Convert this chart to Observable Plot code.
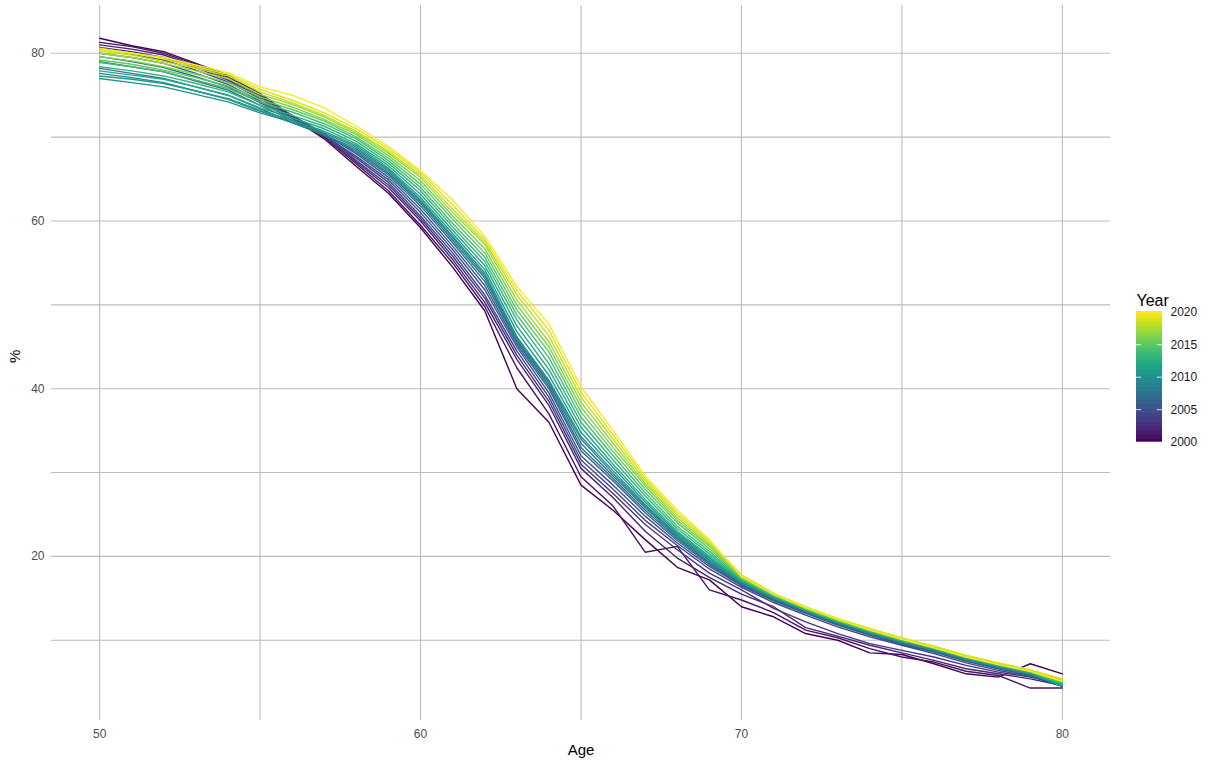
<!DOCTYPE html>
<html><head><meta charset="utf-8">
<script src="https://cdn.jsdelivr.net/npm/d3@7"></script>
<script src="https://cdn.jsdelivr.net/npm/@observablehq/plot@0.6"></script>
<style>
body{margin:0;background:#fff;font-family:"Liberation Sans",Arial,sans-serif;}
#wrap{position:relative;width:1208px;height:765px;overflow:hidden;}
#chart{position:absolute;left:0;top:0;}
#legend{position:absolute;left:1125px;top:280px;}
</style></head><body><div id="wrap"><div id="chart"></div><div id="legend"></div></div>
<script>
const years = [2000,2001,2002,2003,2004,2005,2006,2007,2008,2009,2010,2011,2012,2013,2014,2015,2016,2017,2018,2019,2020];
const ages = [50,51,52,53,54,55,56,57,58,59,60,61,62,63,64,65,66,67,68,69,70,71,72,73,74,75,76,77,78,79,80];
const xTicks = [50,60,70,80];
const yTicks = [20,40,60,80];
const xGrid = [50,55,60,65,70,75,80];
const yGrid = [10,20,30,40,50,60,70,80];
const legendTicks = [2000,2005,2010,2015,2020];

// % by age; each array lists years 2000..2020
const pct50 = [81.8,81.3,81.0,80.7,80.4,80.0,79.6,79.0,78.2,77.6,77.0,77.3,77.9,78.4,78.9,79.2,79.6,80.0,80.3,80.6,80.4];
const pct51 = [80.9,80.8,80.5,80.2,79.9,79.5,79.0,78.4,77.6,77.1,76.5,76.9,77.4,77.9,78.4,78.7,79.1,79.5,79.8,80.0,80.0];
const pct52 = [80.2,80.0,79.8,79.5,79.2,78.8,78.3,77.8,77.0,76.5,76.0,76.4,76.9,77.3,77.8,78.0,78.4,78.8,79.0,79.3,79.5];
const pct53 = [78.8,78.7,78.5,78.3,78.0,77.6,77.2,76.7,76.0,75.5,75.1,75.5,76.0,76.4,76.8,77.1,77.5,77.9,78.2,78.4,78.6];
const pct54 = [77.4,77.2,77.0,76.8,76.6,76.3,76.0,75.6,75.0,74.5,74.2,74.6,75.0,75.4,75.8,76.1,76.5,77.0,77.3,77.5,77.7];
const pct55 = [75.0,75.2,75.0,74.8,74.6,74.3,74.1,73.8,73.4,73.1,72.9,73.2,73.5,73.8,74.2,74.5,74.8,75.1,75.4,75.7,76.0];
const pct56 = [72.3,72.5,72.4,72.6,72.4,72.3,72.2,72.0,71.8,71.7,71.8,72.0,72.3,72.6,73.0,73.3,73.6,73.9,74.1,74.4,75.0];
const pct57 = [69.8,70.0,70.2,70.4,70.3,70.2,70.4,70.3,70.2,70.3,70.5,70.7,71.0,71.3,71.6,71.9,72.1,72.4,72.6,72.9,73.5];
const pct58 = [66.5,66.8,67.0,67.2,67.5,67.7,68.0,68.2,68.4,68.6,68.8,69.0,69.2,69.5,69.8,70.0,70.3,70.5,70.7,71.0,71.3];
const pct59 = [63.3,63.6,64.0,64.3,64.6,64.9,65.2,65.5,65.7,65.9,66.1,66.3,66.6,66.9,67.2,67.5,67.8,68.1,68.3,68.6,68.9];
const pct60 = [59.2,59.5,60.0,60.3,60.6,61.0,61.4,61.8,62.1,62.3,62.5,62.8,63.2,63.6,64.0,64.4,64.8,65.2,65.5,65.8,66.0];
const pct61 = [54.5,55.0,55.4,55.8,56.2,56.6,57.0,57.4,57.7,58.0,58.2,58.5,58.9,59.3,59.7,60.2,60.6,61.0,61.4,61.9,62.5];
const pct62 = [49.3,49.8,50.3,50.8,51.2,51.8,52.3,52.8,53.2,53.5,53.8,54.2,54.7,55.2,55.7,56.2,56.7,57.2,57.5,57.8,58.2];
const pct63 = [40.0,42.5,43.5,44.0,44.5,45.0,45.3,45.6,45.8,46.0,46.2,46.8,47.5,48.2,48.8,49.4,50.0,50.6,51.2,51.7,52.2];
const pct64 = [36.0,37.0,38.0,38.5,39.0,39.5,40.0,40.3,40.6,40.8,41.0,41.6,42.3,43.0,43.7,44.4,45.0,45.6,46.3,47.0,47.7];
const pct65 = [28.5,29.5,30.5,31.0,31.5,32.0,32.6,33.0,33.5,34.0,34.3,34.8,35.4,36.0,36.6,37.2,37.8,38.4,39.0,39.6,40.2];
const pct66 = [25.5,26.0,27.0,27.5,28.0,28.5,29.0,29.3,29.6,29.9,30.2,30.6,31.0,31.5,32.0,32.5,33.0,33.5,34.0,34.5,35.0];
const pct67 = [22.0,20.5,23.0,23.8,24.3,24.8,25.2,25.5,25.8,26.0,26.2,26.5,26.8,27.2,27.6,28.0,28.4,28.7,29.0,29.3,29.6];
const pct68 = [18.7,21.2,19.8,20.8,21.3,21.6,21.9,22.1,22.3,22.5,22.6,22.8,23.0,23.3,23.6,24.0,24.3,24.6,24.9,25.2,25.5];
const pct69 = [17.2,16.0,17.5,18.0,18.5,18.8,19.0,19.2,19.3,19.5,19.6,19.8,20.0,20.3,20.6,20.9,21.2,21.4,21.6,21.8,22.0];
const pct70 = [14.0,14.8,15.5,16.0,16.3,16.5,16.6,16.7,16.8,16.9,17.0,17.0,17.1,17.2,17.3,17.4,17.5,17.6,17.7,17.8,17.6];
const pct71 = [12.8,13.3,14.0,13.8,14.5,14.7,14.8,14.9,15.0,15.0,15.1,15.1,15.2,15.3,15.3,15.4,15.4,15.5,15.6,15.6,15.5];
const pct72 = [10.8,11.2,11.5,12.2,13.0,13.2,13.3,13.4,13.4,13.5,13.5,13.6,13.6,13.7,13.7,13.8,13.8,13.9,13.9,14.0,13.9];
const pct73 = [10.0,10.3,10.5,10.8,11.6,11.8,11.9,12.0,12.0,12.1,12.1,12.2,12.2,12.3,12.3,12.4,12.4,12.5,12.5,12.6,12.5];
const pct74 = [8.5,9.0,9.4,9.6,10.4,10.6,10.7,10.8,10.8,10.9,10.9,11.0,11.0,11.1,11.1,11.2,11.2,11.3,11.3,11.4,11.2];
const pct75 = [8.3,8.0,8.5,8.8,9.4,9.5,9.6,9.7,9.7,9.8,9.8,9.9,9.9,10.0,10.0,10.1,10.1,10.2,10.2,10.3,10.1];
const pct76 = [7.2,7.4,7.6,8.0,8.4,8.6,8.7,8.7,8.8,8.8,8.9,8.9,9.0,9.0,9.1,9.1,9.2,9.2,9.3,9.3,9.1];
const pct77 = [6.0,6.3,6.6,7.0,7.3,7.5,7.6,7.6,7.7,7.7,7.8,7.8,7.9,7.9,8.0,8.0,8.1,8.1,8.2,8.2,8.0];
const pct78 = [5.6,5.8,6.0,6.2,6.4,6.6,6.7,6.7,6.8,6.8,6.9,6.9,7.0,7.0,7.1,7.1,7.2,7.2,7.3,7.3,7.1];
const pct79 = [7.2,4.3,5.4,5.6,5.7,5.8,5.8,5.9,5.9,6.0,6.0,6.1,6.1,6.2,6.2,6.3,6.3,6.4,6.4,6.5,6.3];
const pct80 = [6.0,4.3,4.6,4.8,4.5,4.6,4.7,4.7,4.6,4.5,4.5,4.6,4.7,4.8,4.9,5.0,5.1,5.2,5.3,5.4,5.1];

const pctByAge = [pct50,pct51,pct52,pct53,pct54,pct55,pct56,pct57,pct58,pct59,pct60,pct61,pct62,pct63,pct64,pct65,pct66,pct67,pct68,pct69,pct70,pct71,pct72,pct73,pct74,pct75,pct76,pct77,pct78,pct79,pct80];

const table = [];
years.forEach((yr, j) => {
  ages.forEach((age, i) => table.push({year: yr, age: age, pct: pctByAge[i][j]}));
});

const font = '"Liberation Sans", Arial, Helvetica, sans-serif';
const gridColor = "#bdbdbd";

const chart = Plot.plot({
  width: 1208, height: 765,
  marginLeft: 51, marginRight: 98, marginTop: 5, marginBottom: 45,
  style: {fontFamily: font, fontSize: "12px", color: "#4d4d4d", background: "white"},
  x: {domain: [48.5, 81.5]},
  y: {domain: [0.43, 85.7]},
  color: {type: "linear", scheme: "viridis", domain: [2000, 2020]},
  marks: [
    Plot.ruleX(xGrid, {stroke: gridColor, strokeWidth: 1.1}),
    Plot.ruleY(yGrid, {stroke: gridColor, strokeWidth: 1.1}),
    Plot.line(table, {x: "age", y: "pct", z: "year", stroke: "year", strokeWidth: 1.4}),
    Plot.axisX(xTicks, {tickSize: 0, tickPadding: 9, label: null, fill: "#4d4d4d"}),
    Plot.axisY(yTicks, {tickSize: 0, tickPadding: 7, label: null, fill: "#4d4d4d"}),
    Plot.text(["Age"], {frameAnchor: "bottom", dy: 34, fontSize: 15, fill: "black"}),
    Plot.text(["%"], {frameAnchor: "left", dx: -36, rotate: -90, fontSize: 15, fill: "black"})
  ]
});
document.getElementById("chart").appendChild(chart);

const steps = d3.range(2000, 2020, 0.2);
const legend = Plot.plot({
  width: 83, height: 175,
  marginLeft: 11, marginRight: 46, marginTop: 31.7, marginBottom: 13.3,
  style: {fontFamily: font, fontSize: "12px", color: "#1a1a1a", background: "transparent", overflow: "visible"},
  x: {domain: [0, 1], axis: null},
  y: {domain: [2000, 2020], axis: null},
  color: {type: "linear", scheme: "viridis", domain: [2000, 2020], clamp: true},
  marks: [
    Plot.rect(steps, {x1: 0, x2: 1, y1: d => d, y2: d => Math.min(d + 0.3, 2020.4), fill: d => d + 0.1}),
    Plot.ruleY([2005, 2010, 2015], {x1: 0, x2: 0.2, stroke: "white", strokeOpacity: 0.8}),
    Plot.ruleY([2005, 2010, 2015], {x1: 0.8, x2: 1, stroke: "white", strokeOpacity: 0.8}),
    Plot.axisY(legendTicks, {anchor: "right", tickSize: 0, tickPadding: 8, label: null, tickFormat: d3.format("d"), fill: "#1a1a1a"}),
    Plot.text(["Year"], {frameAnchor: "top-left", dy: -18, textAnchor: "start", fontSize: 16, fill: "black"})
  ]
});
document.getElementById("legend").appendChild(legend);
</script></body></html>
